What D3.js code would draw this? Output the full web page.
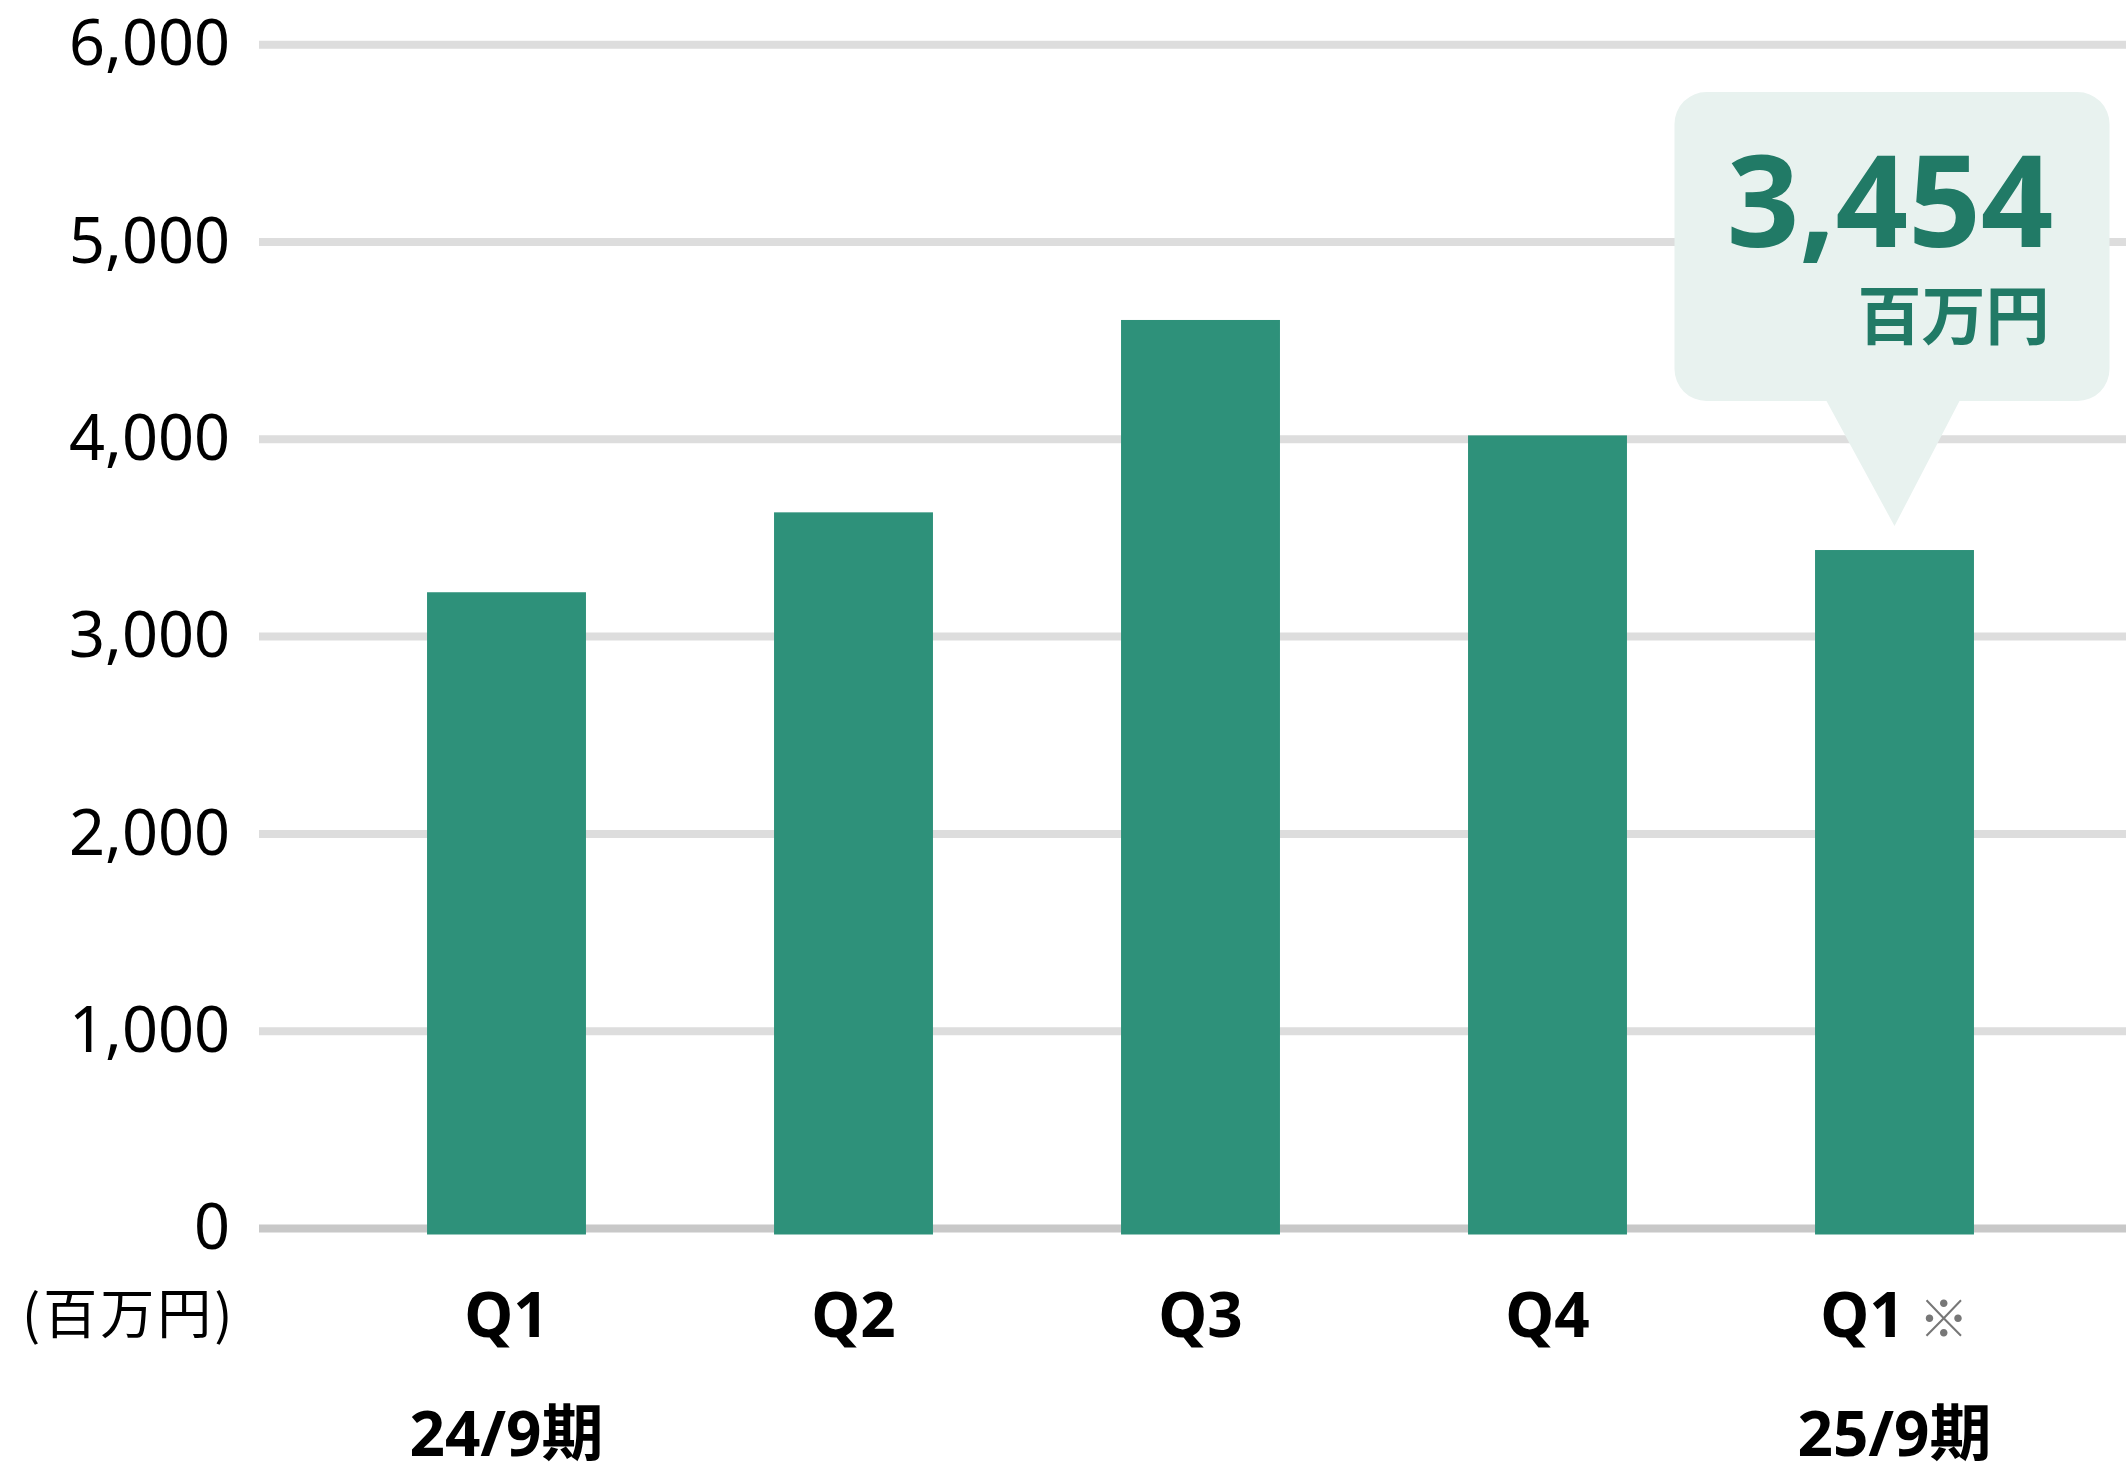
<html>
<meta charset="utf-8" />
<head>
<title>quarterly sales</title>
<script src="https://cdn.jsdelivr.net/npm/d3@7"></script>
<style>
	body { margin: 0; background: #fff; }
	text { font-family: "Noto Sans", "Noto Sans CJK JP", sans-serif; }
</style>
<script>
const quarters = ["Q1", "Q2", "Q3", "Q4", "Q1"];
const sales = [3240, 3645, 4620, 4035, 3454];
const periods = ["24/9期", "", "", "", "25/9期"];
const notes = ["", "", "", "", "※"];
const yTicks = [0, 1000, 2000, 3000, 4000, 5000, 6000];
const unitLabel = "(百万円)";
const calloutValue = "3,454";
const calloutUnit = "百万円";

window.onload = function() {
	let width = 2126, height = 1468;
	let svg = d3.select('svg').attr('width', width).attr('height', height);

	let y = d3.scaleLinear().domain([0, 6000]).range([1228.5, 44.7]);
	let x = d3.scaleBand().domain(d3.range(sales.length))
		.range([333, 2068]).paddingInner(0.542).paddingOuter(0.271);

	// gridlines
	svg.append('g')
		.selectAll('line')
		.data(yTicks)
		.enter()
		.append('line')
		.attr('x1', 259).attr('x2', width)
		.attr('y1', (d) => y(d)).attr('y2', (d) => y(d))
		.style('stroke', (d) => d == 0 ? '#c8c8c8' : '#dddddd')
		.style('stroke-width', '8px');

	// y labels
	let yAxis = d3.axisLeft(y).tickValues(yTicks).tickFormat(d3.format(',')).tickSize(0).tickPadding(29);
	let ga = svg.append('g').attr('transform', 'translate(259,0)').call(yAxis);
	ga.select('.domain').remove();
	ga.selectAll('text')
		.style('font-family', '"Noto Sans", sans-serif')
		.style('font-size', '63px')
		.style('fill', '#000');

	// bars (drawn a touch below the value line, as in the original)
	svg.append('g')
		.selectAll('rect')
		.data(sales)
		.enter()
		.append('rect')
		.attr('x', (d, i) => x(i))
		.attr('width', x.bandwidth())
		.attr('y', (d) => y(d) + 3)
		.attr('height', (d) => y(0) - y(d) + 3)
		.style('fill', '#2e917a');

	// quarter labels
	let ql = svg.append('g')
		.selectAll('text')
		.data(quarters)
		.enter()
		.append('text')
		.attr('x', (d, i) => x(i) + x.bandwidth() / 2)
		.attr('y', 1337)
		.attr('text-anchor', 'middle')
		.style('font-size', '62px')
		.style('font-weight', 'bold')
		.style('fill', '#000');
	ql.append('tspan').text((d) => d);
	ql.filter((d, i) => notes[i] != '')
		.append('tspan')
		.attr('dx', 14)
		.style('font-weight', 'normal')
		.style('font-size', '50px')
		.style('fill', '#777')
		.style('font-family', '"Noto Sans CJK JP", sans-serif')
		.text((d, i) => notes[quarters.length - 1]);

	// period labels
	svg.append('g')
		.selectAll('text')
		.data(periods)
		.enter()
		.append('text')
		.attr('x', (d, i) => x(i) + x.bandwidth() / 2)
		.attr('y', 1456)
		.attr('text-anchor', 'middle')
		.style('font-size', '62px')
		.style('font-weight', 'bold')
		.style('fill', '#000')
		.text((d) => d);

	// unit label
	svg.append('text')
		.attr('x', 22).attr('y', 1334)
		.style('font-family', '"Noto Sans CJK JP", sans-serif')
		.style('font-size', '54px')
		.style('letter-spacing', '3px')
		.style('fill', '#000')
		.text(unitLabel);

	// callout above the last bar
	let last = sales.length - 1;
	let tipX = x(last) + x.bandwidth() / 2;
	let tipY = y(sales[last]) - 21;
	let bx0 = tipX - 220, bx1 = tipX + 215, by0 = 92, by1 = 401, r = 32;
	let p = d3.path();
	p.moveTo(bx0 + r, by0);
	p.lineTo(bx1 - r, by0);
	p.arcTo(bx1, by0, bx1, by0 + r, r);
	p.lineTo(bx1, by1 - r);
	p.arcTo(bx1, by1, bx1 - r, by1, r);
	p.lineTo(tipX + 65, by1);
	p.lineTo(tipX, tipY);
	p.lineTo(tipX - 68, by1);
	p.lineTo(bx0 + r, by1);
	p.arcTo(bx0, by1, bx0, by1 - r, r);
	p.lineTo(bx0, by0 + r);
	p.arcTo(bx0, by0, bx0 + r, by0, r);
	p.closePath();
	svg.append('path').attr('d', p.toString()).style('fill', '#e8f2ef');

	svg.append('text')
		.attr('x', bx1 - 56).attr('y', 247)
		.attr('text-anchor', 'end')
		.style('font-size', '127px')
		.style('font-weight', 'bold')
		.style('fill', '#217a66')
		.text(calloutValue);
	svg.append('text')
		.attr('x', bx1 - 60).attr('y', 339)
		.attr('text-anchor', 'end')
		.style('font-family', '"Noto Sans CJK JP", sans-serif')
		.style('font-size', '64px')
		.style('font-weight', 'bold')
		.style('fill', '#217a66')
		.text(calloutUnit);
}
</script>
</head>
<body>
<svg></svg>
</body>
</html>
